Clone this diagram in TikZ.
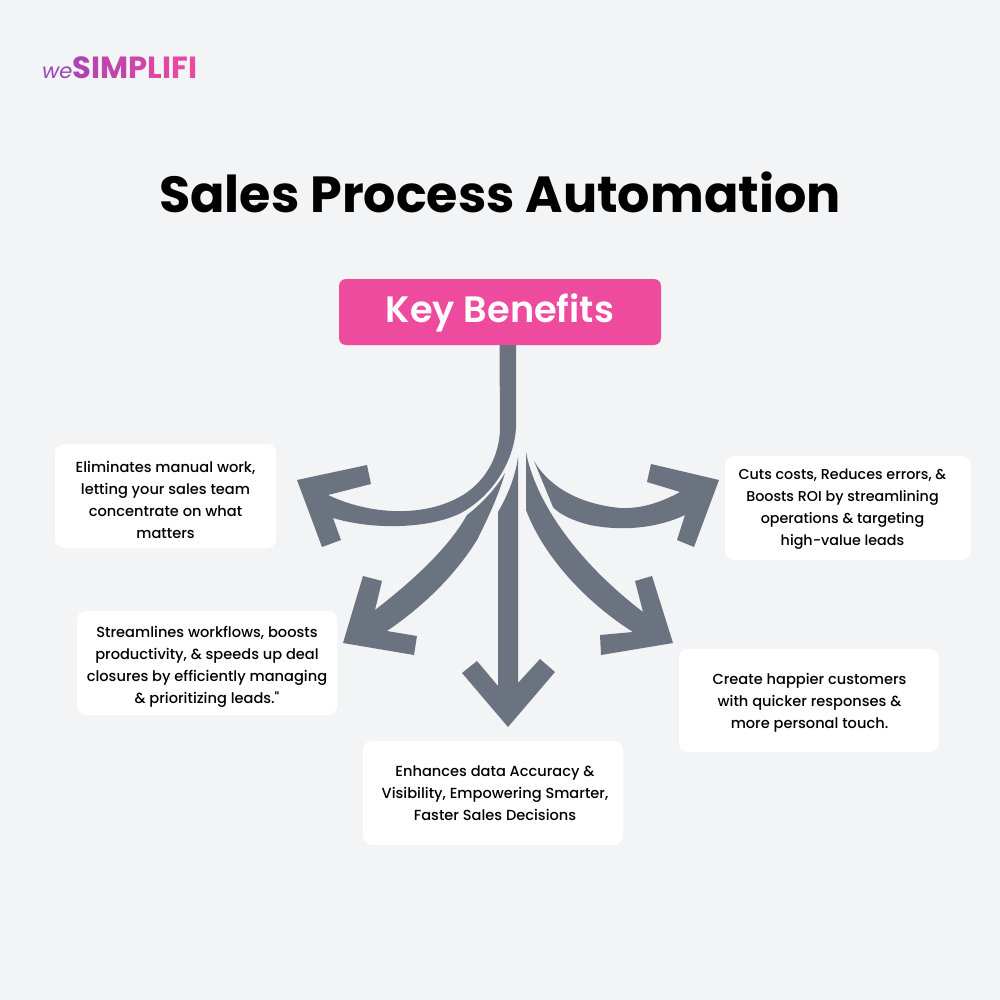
\documentclass[tikz,border=0pt]{standalone}
\usepackage{fontspec}
\setmainfont{Poppins}[UprightFont=* Medium,BoldFont=* Bold]
\newfontfamily\popreg{Poppins}
\newfontfamily\popmed{Poppins}[UprightFont=* Medium]
\newfontfamily\popsemi{Poppins}[UprightFont=* SemiBold]
\definecolor{bgc}{HTML}{F3F4F6}
\definecolor{arrowc}{HTML}{6B7280}
\definecolor{pinkc}{HTML}{EE4B9E}
\tikzset{
  arrowshape/.style={fill=arrowc,draw=none},
  cardtext/.style={align=center,font=\fontsize{14.6}{22}\selectfont,text=black,inner sep=0pt},
}
\begin{document}
\begin{tikzpicture}[x=1pt,y=-1pt]
\useasboundingbox (0,0) rectangle (1000,1000);
\fill[bgc] (0,0) rectangle (1000,1000);
% logo
\node[anchor=base west,inner sep=0pt,font=\fontsize{21}{21}\selectfont] (logo) at (42,79) {\popreg\itshape\color[HTML]{9A46B8}we\upshape\hspace{0.5pt}\fontsize{30.6}{26}\selectfont\bfseries\color[HTML]{B043B4}S\color[HTML]{B944B0}I\color[HTML]{C245AC}M\color[HTML]{CF46A8}P\color[HTML]{DA48A4}L\color[HTML]{E049A2}I\color[HTML]{E64AA0}F\color[HTML]{EA4A9F}I};
% title
\node[inner sep=0pt,font=\fontsize{50.8}{50}\selectfont\bfseries,text=black] (title) at (500,192) {Sales Process Automation};
% header
\fill[pinkc,rounded corners=7pt] (339,279) rectangle (661,345);
\node[inner sep=0pt,font=\fontsize{36.7}{36}\popsemi\selectfont,text=white] (key) at (500,313) {Key Benefits};
% arrows
\path[arrowshape] (499.5,345) -- (516,345) -- (516,427)
  .. controls (515,455) and (498,490) .. (466,510)
  .. controls (440,527) and (380,532) .. (333,518)
  -- (341,540) -- (322,547) -- (297,480) -- (367,465) -- (371,484) -- (328,495)
  .. controls (370,515) and (425,518) .. (463,495)
  .. controls (487,480) and (499,455) .. (500,430) -- cycle;
\path[arrowshape] (505,473)
  .. controls (495,490) and (480,505) .. (467,515)
  .. controls (450,545) and (420,575) .. (375,610)
  -- (382,581) -- (363,576) -- (343,643) -- (414,655) -- (417,636) -- (387,631)
  .. controls (425,605) and (455,575) .. (477,540)
  .. controls (487,520) and (498,497) .. (505,473) -- cycle;
\path[arrowshape] (518,457) .. controls (515,480) and (505,500) .. (498,512)
  -- (498,686) -- (477,661) -- (462,673) -- (508,727) -- (555,672) -- (540,659) -- (518,683) -- cycle;
\path[arrowshape] (526,452) .. controls (535,500) and (575,560) .. (643,612)
  -- (635,581) -- (652,576) -- (673,643) -- (601,655) -- (600,635) -- (633,632)
  .. controls (590,605) and (545,560) .. (526,510) -- cycle;
\path[arrowshape] (534,461) .. controls (545,480) and (570,503) .. (620,508)
  .. controls (640,509) and (660,503) .. (680,492)
  -- (647,482) -- (651,464) -- (719,480) -- (694,547) -- (677,540) -- (685,515)
  .. controls (660,527) and (625,532) .. (590,525)
  .. controls (570,520) and (558,513) .. (553,507) -- cycle;
% cards
\fill[white,rounded corners=9pt] (55,444) rectangle (276,548);
\node[cardtext] (t1) at (165.5,499.5) {Eliminates manual work,\\letting your sales team\\concentrate on what\\matters};
\fill[white,rounded corners=9pt] (77,611) rectangle (337,715);
\node[cardtext] (t2) at (207,667) {Streamlines workflows, boosts\\productivity, \& speeds up deal\\closures by efficiently managing\\\& prioritizing leads.{\popmed"}};
\fill[white,rounded corners=9pt] (363,741) rectangle (623,845);
\node[cardtext] (t3) at (495,793) {Enhances data Accuracy \&\\Visibility, Empowering Smarter,\\Faster Sales Decisions};
\fill[white,rounded corners=9pt] (679,649) rectangle (939,752);
\node[cardtext] (t4) at (809.5,703) {Create happier customers\\with quicker responses \&\\more personal touch.};
\fill[white,rounded corners=9pt] (725,456) rectangle (971,560);
\node[cardtext,font=\fontsize{14.3}{22}\selectfont] (t5) at (842.5,509) {Cuts costs, Reduces errors, \&\\Boosts ROI by streamlining\\operations \& targeting\\high-value leads};
\end{tikzpicture}
\end{document}
